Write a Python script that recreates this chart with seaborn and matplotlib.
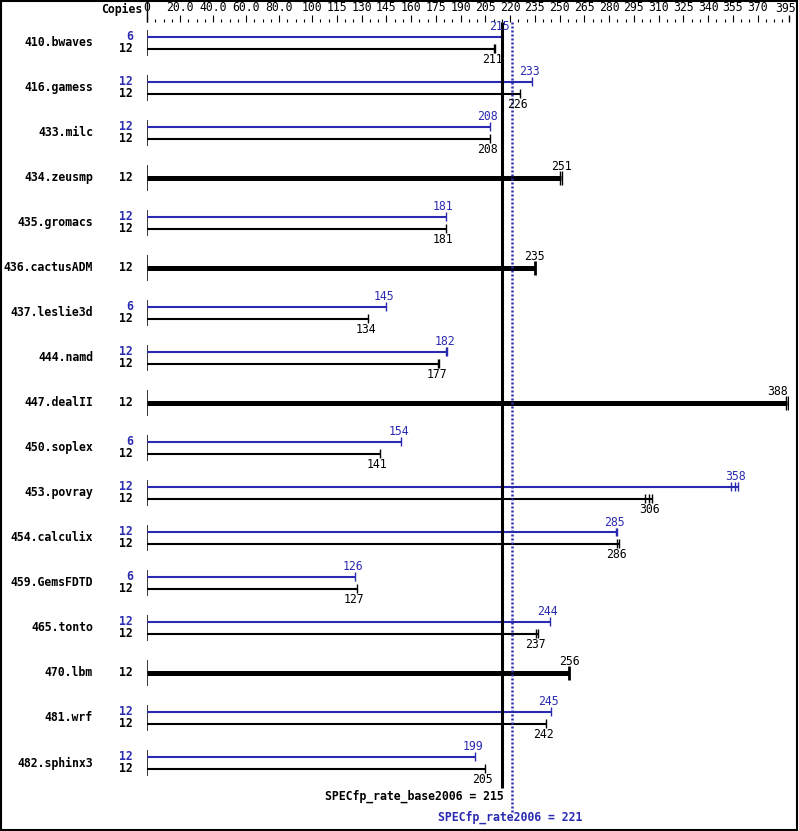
"""SPECfp_rate2006 结果图——base / peak 横向条形对比"""

import matplotlib
matplotlib.use("Agg")
import matplotlib.pyplot as plt
import matplotlib.transforms as mtransforms
from matplotlib.patches import Rectangle
import seaborn as sns

# ── 数据 ──
benchmarks = ["410.bwaves", "416.gamess", "433.milc", "434.zeusmp", "435.gromacs",
              "436.cactusADM", "437.leslie3d", "444.namd", "447.dealII", "450.soplex",
              "453.povray", "454.calculix", "459.GemsFDTD", "465.tonto", "470.lbm",
              "481.wrf", "482.sphinx3"]
base_copies = [12, 12, 12, 12, 12, 12, 12, 12, 12, 12, 12, 12, 12, 12, 12, 12, 12]
peak_copies = [6, 12, 12, None, 12, None, 6, 12, None, 6, 12, 12, 6, 12, None, 12, 12]
base_ratio = [211, 226, 208, 251, 181, 235, 134, 177, 388, 141, 306, 286, 127, 237, 256, 242, 205]
peak_ratio = [215, 233, 208, None, 181, None, 145, 182, None, 154, 358, 285, 126, 244, None, 245, 199]
# 各次运行的刻度位置
base_runs = [[210, 211], [226], [208], [250, 251.5], [181], [235], [134], [176.5, 177],
             [387, 388.5], [141], [302, 304, 306], [285, 286], [127], [236, 237], [256],
             [242], [205]]
peak_runs = [[215], [233], [208], None, [181], None, [145], [181, 182], None, [154],
             [354, 356, 358], [284, 285], [126], [244], None, [245], [199]]

tick_values = [0, 20, 40, 60, 80, 100, 115, 130, 145, 160, 175, 190, 205, 220, 235, 250,
               265, 280, 295, 310, 325, 340, 355, 370]
tick_labels = ["0", "20.0", "40.0", "60.0", "80.0", "100", "115", "130", "145", "160", "175",
               "190", "205", "220", "235", "250", "265", "280", "295", "310", "325", "340",
               "355", "370"]
last_label = "395"

base_score = 215
peak_score = 221

BLUE = "#2a2ab0"
XMAX = 389
W, H = 799, 831

sns.set_theme(style="white")
plt.rcParams["font.family"] = ["DejaVu Sans Mono", "DejaVu Sans"]
plt.rcParams["text.color"] = "black"
plt.rcParams["xtick.color"] = "black"
plt.rcParams["xtick.labelcolor"] = "black"
FS = 8.3


def fx(px):
    return px / W


def fy(py):
    return 1 - py / H


def r(py):
    """像素 y -> 行坐标"""
    return (py - 43) / 45


def dp(px):
    return px / 45


fig = plt.figure(figsize=(W / 100, H / 100), dpi=100)
ax = fig.add_axes([fx(147), fy(790), fx(789) - fx(147), fy(22) - fy(790)])
ax.set_xlim(0, XMAX)
ax.set_ylim(r(790), r(22))
for s in ax.spines.values():
    s.set_visible(False)

# 顶部刻度
ax.xaxis.tick_top()
ax.set_xticks(tick_values)
ax.set_xticklabels(tick_labels, fontsize=FS)
ax.set_xticks(list(range(5, XMAX, 5)), minor=True)
ax.tick_params(axis="x", which="major", direction="out", length=5, width=0.8,
               color="black", labelcolor="black", pad=0.5, top=True, bottom=False)
ax.tick_params(axis="x", which="minor", direction="out", length=2.5, width=0.8,
               color="black", top=True, bottom=False)
ax.set_yticks([])
ax.vlines(0, r(2), r(22), color="black", lw=1, clip_on=False)
ax.vlines(XMAX, r(15), r(22), color="black", lw=1, clip_on=False)
ax.text(XMAX - 2, r(9), last_label, ha="center", va="center", fontsize=FS, clip_on=False)

lab_tr = mtransforms.blended_transform_factory(fig.transFigure, ax.transData)
fig.text(fx(142), fy(9), "Copies", ha="right", va="center", fontsize=FS, fontweight="bold")

thin = 1.5
thick = 3.6
for i, name in enumerate(benchmarks):
    ax.vlines(0, i - dp(13), i + dp(13), color="black", lw=1.1)
    fig.text(fx(93), i, name, transform=lab_tr, ha="right", va="center",
             fontsize=FS, fontweight="bold")
    if peak_ratio[i] is None:
        v = base_ratio[i]
        ax.hlines(i, 0, v, color="black", lw=thick)
        for run in base_runs[i]:
            ax.vlines(run, i - dp(7), i + dp(7), color="black",
                      lw=2 if len(base_runs[i]) == 1 else 1)
        fig.text(fx(133), i, str(base_copies[i]), transform=lab_tr, ha="right",
                 va="center", fontsize=FS, fontweight="bold")
        ax.text(v, i - dp(11), str(v), ha="right" if v > XMAX - 6 else "center",
                va="center", fontsize=FS, clip_on=False)
        continue
    yp, yb = i - dp(6), i + dp(6)
    pv, bv = peak_ratio[i], base_ratio[i]
    ax.hlines(yp, 0, pv, color=BLUE, lw=thin)
    ax.hlines(yb, 0, bv, color="black", lw=thin)
    for run in peak_runs[i]:
        ax.vlines(run, yp - dp(4.5), yp + dp(4.5), color=BLUE, lw=1)
    for run in base_runs[i]:
        ax.vlines(run, yb - dp(4.5), yb + dp(4.5), color="black", lw=1)
    fig.text(fx(133), yp, str(peak_copies[i]), transform=lab_tr, ha="right",
             va="center", fontsize=FS, fontweight="bold", color=BLUE)
    fig.text(fx(133), yb, str(base_copies[i]), transform=lab_tr, ha="right",
             va="center", fontsize=FS, fontweight="bold")
    ax.text(pv - 1.5, yp - dp(10), str(pv), ha="center", va="center",
            fontsize=FS, color=BLUE)
    ax.text(bv - 1.5, yb + dp(11), str(bv), ha="center", va="center", fontsize=FS)

# 总分线
ax.vlines(base_score, r(22), r(788), color="black", lw=2.2, clip_on=False)
ax.vlines(peak_score, r(22), r(812), color=BLUE, lw=1.8, linestyles=(0, (0.8, 0.8)),
          clip_on=False)
ax.text(base_score + 1, r(796), f"SPECfp_rate_base2006 = {base_score}", ha="right",
        va="center", fontsize=FS, fontweight="bold", clip_on=False)
ax.text(peak_score - 1, r(817), f"SPECfp_rate2006 = {peak_score}", ha="center",
        va="center", fontsize=FS, fontweight="bold", color=BLUE, clip_on=False)

fig.add_artist(Rectangle((fx(0.5), fy(830)), fx(797) - fx(0.5), fy(0.5) - fy(830),
                         transform=fig.transFigure, fill=False, lw=1.5, ec="black"))

fig.savefig("out.png", dpi=100)
plt.close(fig)
